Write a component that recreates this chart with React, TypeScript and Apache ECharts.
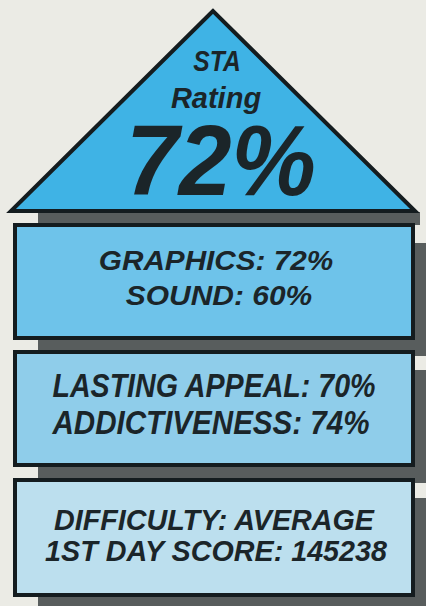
import React, { useEffect, useRef } from "react";
import * as echarts from "echarts";

const headline = ["STA", "Rating"];
const overallRating = [72];
const boxLabels = [
  ["GRAPHICS", "SOUND"],
  ["LASTING APPEAL", "ADDICTIVENESS"],
  ["DIFFICULTY", "1ST DAY SCORE"],
];
const boxValues = [
  ["72%", "60%"],
  ["70%", "74%"],
  ["AVERAGE", "145238"],
];
const boxColors = ["#6ec3ea", "#8fcdea", "#bcdfee"];

const W = 426;
const H = 606;
const FONT = "Liberation Sans";
const INK = "#1b2529";
const SHADOW = "#585d5d";

function txt(text: string, x: number, y: number, size: number, sx: number, weight: string, lh?: number, font?: string) {
  return {
    type: "text",
    x,
    y,
    scaleX: sx,
    style: {
      text,
      x: 0,
      y: 0,
      fontFamily: font ?? FONT,
      fontWeight: weight,
      fontStyle: "italic",
      fontSize: size,
      lineHeight: lh ?? size,
      fill: INK,
      align: "center",
      verticalAlign: "middle",
    },
  };
}

export default function App() {
  const ref = useRef<HTMLDivElement>(null);
  useEffect(() => {
    document.body.style.margin = "0";
    const chart = echarts.init(ref.current!, null, { renderer: "svg" });
    const els: any[] = [];
    els.push({ type: "rect", shape: { x: 0, y: 0, width: W, height: H }, style: { fill: "#ebebe5" }, silent: true });
    // triangle shadow
    els.push({ type: "rect", shape: { x: 38, y: 212, width: 382, height: 13 }, style: { fill: SHADOW } });
    els.push({
      type: "polygon",
      shape: { points: [[213, 11], [11, 211], [415, 211]] },
      style: { fill: "#3fb3e5", stroke: "#141c1f", lineWidth: 4, lineJoin: "miter" },
    });
    els.push(txt(headline[0], 217, 61, 30, 0.82, "bold", 26));
    els.push(txt(headline[1], 216, 98, 29, 1, "bold", 26));
    els.push(txt(overallRating[0] + "%", 221, 161, 100, 0.95, "bold", 78));

    const tops = [225, 352, 480];
    const heights = [113, 113, 115];
    const lineY = [[260, 295], [385, 423.5], [520, 551]];
    const sizes = [[27.5, 27.5], [32.5, 32.5], [29, 29]];
    const scales = [[1.08, 1.09], [0.88, 0.91], [0.99, 0.99]];
    const xs = [[216, 219], [214, 211], [214, 216]];
    tops.forEach((t, i) => {
      els.push({ type: "rect", shape: { x: 38, y: t + heights[i], width: 388, height: 13 }, style: { fill: SHADOW } });
      els.push({ type: "rect", shape: { x: 413, y: t + 18, width: 13, height: heights[i] }, style: { fill: SHADOW } });
      els.push({
        type: "rect",
        shape: { x: 15, y: t, width: 398, height: heights[i] },
        style: { fill: boxColors[i], stroke: "#141c1f", lineWidth: 4 },
      });
      for (let j = 0; j < 2; j++) {
        els.push(txt(boxLabels[i][j] + ": " + boxValues[i][j], xs[i][j], lineY[i][j], sizes[i][j], scales[i][j], "bold"));
      }
    });

    chart.setOption({ animation: false, graphic: { elements: els } });
    return () => chart.dispose();
  }, []);
  return <div ref={ref} style={{ width: W, height: H }} />;
}
